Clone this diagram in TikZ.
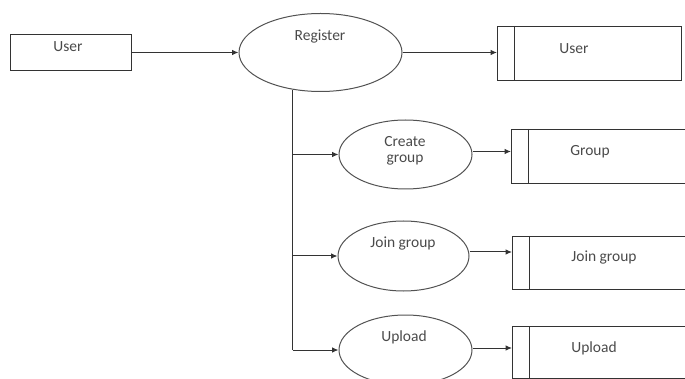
\documentclass[tikz,border=0pt]{standalone}
\usepackage{fontspec}
\setmainfont{Carlito}
\usepackage{tikz}
\usetikzlibrary{arrows.meta,shapes.geometric}
\definecolor{linec}{HTML}{333333}
\definecolor{textc}{HTML}{4A4A4A}
\tikzset{
  ent/.style={draw=linec,line width=1pt,minimum width=121pt,minimum height=36pt,inner sep=0pt},
  proc/.style={ellipse,draw=linec!85,line width=1pt,inner sep=0pt},
  store/.style={draw=linec,line width=1pt,minimum height=54pt,inner sep=0pt,anchor=north west},
  txt/.style={font=\fontsize{15.5}{16.5}\selectfont,text=textc,align=center,inner sep=0pt},
  flow/.style={-{Latex[length=6.5pt,width=5.5pt]},line width=1pt,draw=linec},
}
\begin{document}
\begin{tikzpicture}[x=1pt,y=-1pt]
  \useasboundingbox[clip] (0,0) rectangle (685,379);
  % external entity and first process
  \node[ent] (src) at (70.5,52.5) {};
  \node[txt] (srct) at (68,47) {User};
  \node[proc,minimum width=163pt,minimum height=78pt] (reg) at (320.5,52.5) {};
  \node[txt] (regt) at (320,37) {Register};
  % processes below
  \node[proc,minimum width=133pt,minimum height=69pt] (cg) at (405.5,154.5) {};
  \node[txt] (cgt) at (405,151) {Create\\group};
  \node[proc,minimum width=131pt,minimum height=70pt] (jg) at (403.5,256) {};
  \node[txt] (jgt) at (403,244) {Join group};
  \node[proc,minimum width=133pt,minimum height=70pt] (up) at (405.5,350) {};
  \node[txt] (upt) at (404,337) {Upload};
  % data stores
  \node[store,minimum width=184pt] (sU) at (497,26) {};
  \node[store,minimum width=200pt,minimum height=54pt] (sG) at (511,129) {};
  \node[store,minimum width=200pt,minimum height=53pt] (sJ) at (512,236) {};
  \node[store,minimum width=200pt,minimum height=52pt] (sP) at (512,326) {};
  \foreach \s in {sU,sG,sJ,sP}
    \draw[linec,line width=1pt] ([xshift=17pt]\s.north west) -- ([xshift=17pt]\s.south west);
  \node[txt] (sUt) at (574,49) {User};
  \node[txt] (sGt) at (590,152) {Group};
  \node[txt] (sJt) at (604,258) {Join group};
  \node[txt] (sPt) at (594,348) {Upload};
  % flows
  \draw[flow] (src.east) -- (reg.west);
  \draw[flow] (reg.east) -- (reg.east -| sU.west);
  \draw[linec,line width=1pt] (reg.233) -- (reg.233 |- up.west);
  \foreach \p in {cg,jg,up}
    \draw[flow] (reg.233 |- \p.west) -- (\p.west);
  \draw[flow] ([yshift=3pt]cg.east) -- ([yshift=3pt]cg.east -| sG.west);
  \draw[flow] ([yshift=4pt]jg.east) -- ([yshift=4pt]jg.east -| sJ.west);
  \draw[flow] ([yshift=2pt]up.east) -- ([yshift=2pt]up.east -| sP.west);
\end{tikzpicture}
\end{document}
